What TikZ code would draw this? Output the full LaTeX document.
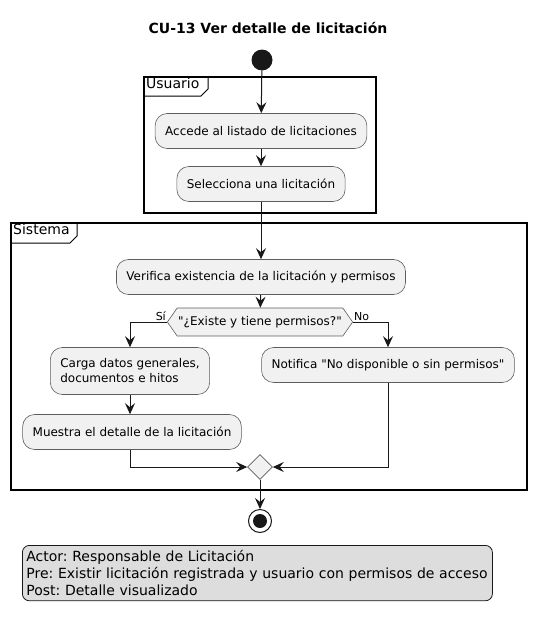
\documentclass[tikz,border=0pt]{standalone}
\usepackage{fontspec}
\setmainfont{DejaVu Sans}
\newfontfamily\dqfont{DejaVu Sans}
\usetikzlibrary{arrows.meta,shapes.geometric,shapes.symbols,positioning}
\definecolor{actfill}{HTML}{F1F1F1}
\definecolor{actline}{HTML}{181818}
\definecolor{notefill}{HTML}{DDDDDD}
\frenchspacing
\tikzset{
  act/.style={draw=actline!70, line width=0.6pt, fill=actfill, rounded corners=12pt, font=\fontsize{12}{15}\selectfont, inner xsep=10pt, inner ysep=0pt, minimum height=35pt},
  frm/.style={draw=black, line width=1.6pt},
  flabel/.style={font=\fontsize{14}{16}\selectfont, inner xsep=2pt, inner ysep=1pt, anchor=north west},
  arr/.style={line width=1pt, draw=actline, -{Stealth[length=11pt,width=10pt,inset=4pt]}},
  lbl/.style={font=\fontsize{11}{13}\selectfont, inner sep=1pt},
}
\newcommand{\dq}{{\dqfont\symbol{34}}}
\begin{document}
\begin{tikzpicture}[x=1pt,y=-1pt]
\useasboundingbox (0,0) rectangle (536,627);
\node[font=\bfseries\fontsize{14}{16}\selectfont] (title) at (268,28) {CU-13 Ver detalle de licitación};
\node[circle, fill=actline, minimum size=21pt, inner sep=0pt] (start) at (262,60) {};
% Usuario frame
\draw[frm] (144,77) rectangle (376,213);
\node[flabel] (ulab) at (144,77) {Usuario};
\draw[line width=1pt] (144,96) -- (201,96) -- (208,89) -- (208,77);
\node[act] (a1) at (261,131) {Accede al listado de licitaciones};
\node[act] (a2) at (261,184) {Selecciona una licitación};
% Sistema frame
\draw[frm] (11,223) rectangle (527,490);
\node[flabel] (slab) at (11,223) {Sistema};
\draw[line width=1pt] (11,243) -- (70,243) -- (77,236) -- (77,223);
\node[act] (a3) at (261,277) {Verifica existencia de la licitación y permisos};
\node[signal, signal to=west and east, signal pointer angle=110, draw=actline!70, line width=0.6pt, fill=actfill, font=\fontsize{12}{15}\selectfont, minimum height=28pt, inner xsep=1pt, inner ysep=0pt] (dec) at (260,322) {\dq¿Existe y tiene permisos?\dq};
\node[act, align=left, minimum height=47pt] (a4) at (130,371) {Carga datos generales,\\documentos e hitos};
\node[act] (a5) at (132,432) {Muestra el detalle de la licitación};
\node[act] (a6) at (388,365) {Notifica \dq No disponible o sin permisos\dq};
\node[diamond, draw=actline!70, line width=0.6pt, fill=actfill, minimum size=25pt, inner sep=0pt] (merge) at (260,467) {};
\node[circle, draw=actline, line width=1pt, fill=white, minimum size=23pt, inner sep=0pt] (stop) at (260,521) {};
\node[circle, fill=actline, minimum size=14pt, inner sep=0pt] (stopin) at (stop.center) {};
% note
\node[draw=actline, line width=0.8pt, fill=notefill, rounded corners=7pt, align=left, anchor=north west, font=\fontsize{14}{17}\selectfont, text width=462pt, inner xsep=4pt, inner ysep=5pt] (note) at (22,545) {Actor: Responsable de Licitación\\Pre: Existir licitación registrada y usuario con permisos de acceso\\Post: Detalle visualizado};
% connectors
\draw[arr] (start) -- (a1);
\draw[arr] (a1) -- (a2);
\draw[arr] (a2.south) -- (a3.north);
\draw[arr] (a3) -- (dec);
\draw[arr] (dec.west) -| (a4.north);
\draw[arr] (dec.east) -| (a6.north);
\node[lbl, anchor=south east] (si) at (dec.west) {Sí};
\node[lbl, anchor=south west] (no) at (dec.east) {No};
\draw[arr] (a4) -- (a5.north -| a4.south);
\draw[arr] (a5.south -| a4.south) |- (merge.west);
\draw[arr] (a6.south) |- (merge.east);
\draw[arr] (merge) -- (stop);
\end{tikzpicture}
\end{document}
